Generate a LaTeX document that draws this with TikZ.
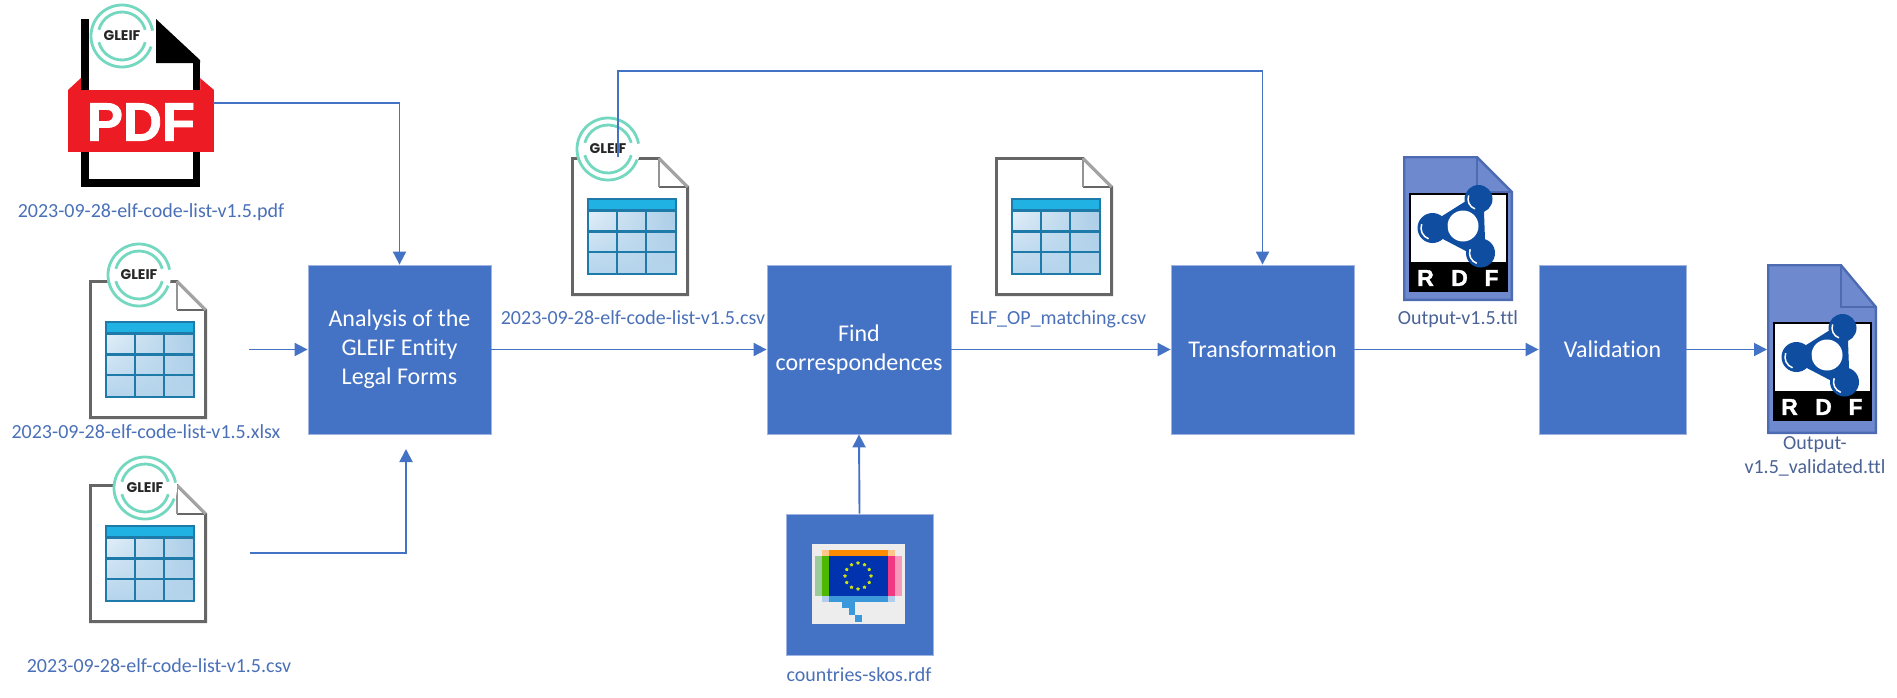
\documentclass[tikz,border=0pt]{standalone}
\usepackage{fontspec}
\setmainfont{Carlito}[Ligatures=NoCommon]
\newfontfamily\logofont{Poppins}
\newfontfamily\markfont{Liberation Sans}[BoldFeatures={FakeBold=1.6}]
\usetikzlibrary{arrows.meta,shadings,shapes.geometric}
\definecolor{boxblue}{HTML}{4472C4}
\definecolor{boxedge}{HTML}{9FB4E0}
\definecolor{labelblue}{HTML}{4A70B8}
\definecolor{slateblue}{HTML}{4A6294}
\definecolor{gleifgreen}{HTML}{74D8C0}
\definecolor{sheetgrey}{HTML}{666666}
\definecolor{gridblue}{HTML}{1E7AA8}
\definecolor{headcyan}{HTML}{20B2E2}
\definecolor{celllight}{HTML}{EAF3FA}
\definecolor{celldark}{HTML}{A9CCE6}
\definecolor{celllow}{HTML}{B4D4EC}
\definecolor{rdfsheet}{HTML}{6F89CE}
\definecolor{rdfedge}{HTML}{4D6BB3}
\definecolor{rdfball}{HTML}{0F4DA0}
\definecolor{pdfred}{HTML}{ED1C24}
\tikzset{
  process/.style={draw=boxedge, line width=0.8pt, fill=boxblue, text=white, align=center, inner sep=0pt,
    font=\fontsize{24}{29}\selectfont},
  filelabel/.style={text=labelblue, align=center, inner sep=0pt, font=\fontsize{20}{24}\selectfont},
  flow/.style={draw=boxblue, line width=1.9pt, -{Triangle[length=13pt,width=13pt]}},
  pics/gleiflogo/.style={code={
    \fill[white] (0,0) circle (32);
    \draw[gleifgreen, line width=2.8pt] (20:31) arc (20:350:31);
    \draw[gleifgreen, line width=2.8pt] (165:24) arc (165:15:24);
    \draw[gleifgreen, line width=2.8pt] (195:24) arc (195:345:24);
    \node[inner sep=0pt, text=black!85, font=\logofont\bfseries\fontsize{14}{14}\selectfont] (-text) at (0,0) {GLEIF};
  }},
  pics/sheetgrid/.style={code={
    \path[shade, upper left=celllight, upper right=celldark, lower left=celllow, lower right=celllow] (0,0) rectangle (88,75);
    \fill[headcyan] (0,0) rectangle (88,11);
    \draw[gridblue, line width=2.8pt] (0,0) rectangle (88,75);
    \draw[gridblue, line width=2.8pt] (0,11.5) -- (88,11.5);
    \draw[gridblue, line width=2.8pt] (0,32.5) -- (88,32.5);
    \draw[gridblue, line width=2.8pt] (0,53) -- (88,53);
    \draw[gridblue, line width=2.8pt] (29,11.5) -- (29,75);
    \draw[gridblue, line width=2.8pt] (58,11.5) -- (58,75);
  }},
  pics/sheetdoc/.style={code={
    \draw[sheetgrey, fill=white, line width=2.8pt] (1.4,1.4) -- (88,1.4) -- (116.6,30) -- (116.6,137.6) -- (1.4,137.6) -- cycle;
    \draw[sheetgrey, line width=2.8pt] (88,30) -- (116.6,30);
    \draw[sheetgrey!70, line width=2.8pt] (88,1.4) -- (88,30);
    \draw[sheetgrey!60, line width=2.8pt] (88,1.4) -- (116.6,30);
    \pic at (17,42) {sheetgrid};
  }},
  pics/rdfmark/.style={code={
    \fill[black] (0,0) rectangle (99,99);
    \fill[white] (2,2) rectangle (97,69);
    \draw[rdfball, fill=rdfball, line width=10pt, line join=round] (70,6) -- (24,35) -- (72,60) -- cycle;
    \fill[white] (54.5,33) circle (15.5);
    \fill[rdfball] (70,6) circle (14);
    \fill[rdfball] (24,35) circle (15);
    \fill[rdfball] (72,60) circle (14.5);
    \draw[white, line width=1.5pt] (70,6) ++(200:10.5) arc (200:110:10.5);
    \draw[white, line width=1.5pt] (24,35) ++(200:11.5) arc (200:110:11.5);
    \draw[white, line width=1.5pt] (72,60) ++(200:11) arc (200:110:11);
    \node[inner sep=0pt, text=white, font=\markfont\bfseries\fontsize{23}{23}\selectfont] (-r) at (17,85) {R};
    \node[inner sep=0pt, text=white, font=\markfont\bfseries\fontsize{23}{23}\selectfont] (-d) at (51,85) {D};
    \node[inner sep=0pt, text=white, font=\markfont\bfseries\fontsize{23}{23}\selectfont] (-f) at (83,85) {F};
  }},
  pics/rdfdoc/.style n args={3}{code={
    \draw[rdfedge, fill=rdfsheet, line width=2.4pt] (1.2,1.2) -- (74,1.2) -- (108.8,#2) -- (108.8,#1-1.2) -- (1.2,#1-1.2) -- cycle;
    \draw[rdfedge, line width=2.4pt] (74,1.2) -- (74,#2) -- (108.8,#2);
    \pic (-mark) at (5.5,#3) {rdfmark};
  }},
}
\begin{document}
\begin{tikzpicture}[x=1pt,y=-1pt]
    \useasboundingbox (0,0) rectangle (1897,697);

    % pdf source
    \fill[pdfred] (68,90) -- (81,78) -- (200,78) -- (214,90) -- cycle;
    \fill[white] (81,19) -- (156,19) -- (200,60) -- (200,187) -- (81,187) -- cycle;
    \fill[black] (81,19) rectangle (89,90);
    \fill[black] (81,152) rectangle (89,187);
    \fill[black] (81,179) rectangle (200,187);
    \fill[black] (193,63) rectangle (200,90);
    \fill[black] (193,152) rectangle (200,187);
    \fill[black] (156,19) -- (200,60) -- (200,63) -- (156,63) -- cycle;
    \fill[pdfred] (68,90) rectangle (214,152);
    \node[inner sep=0pt, text=white, font=\markfont\bfseries\fontsize{54}{54}\selectfont] (pdfmark) at (141,122) {PDF};
    \pic (pdflogo) at (122,36) {gleiflogo};
    \node[filelabel] (pdflabel) at (151,212) {2023-09-28-elf-code-list-v1.5.pdf};

    % spreadsheet sources
    \pic at (89,280) {sheetdoc};
    \pic (xlsxlogo) at (139,275) {gleiflogo};
    \node[filelabel] (xlsxlabel) at (146,432) {2023-09-28-elf-code-list-v1.5.xlsx};

    \pic at (89,484) {sheetdoc};
    \pic (csvlogo) at (145,488) {gleiflogo};
    \node[filelabel] (csvlabel) at (159,666) {2023-09-28-elf-code-list-v1.5.csv};

    % intermediate files
    \pic at (571,157) {sheetdoc};
    \pic (rawlogo) at (608,149) {gleiflogo};
    \node[filelabel] (rawlabel) at (633,318) {2023-09-28-elf-code-list-v1.5.csv};

    \pic at (995,157) {sheetdoc};
    \node[filelabel] (matchlabel) at (1058,319) {ELF\_OP\_matching.csv};

    \pic (output) at (1403,156) {rdfdoc={145}{36}{37}};
    \node[filelabel, text=slateblue] (outputlabel) at (1458,319) {Output-v1.5.ttl};

    \pic (checked) at (1767,264) {rdfdoc={170}{43}{58}};
    \node[filelabel, text=slateblue] (checkedlabel) at (1815,456) {Output-\\v1.5\_validated.ttl};

    % steps
    \node[process, minimum width=183, minimum height=169] (analysis) at (399.5,349.5) {Analysis of the\\GLEIF Entity\\Legal Forms};
    \node[process, minimum width=184, minimum height=169] (findcorr) at (859,349.5) {Find\\correspondences};
    \node[process, minimum width=183, minimum height=169] (transform) at (1262.5,349.5) {Transformation};
    \node[process, minimum width=147, minimum height=169] (validation) at (1612.5,349.5) {Validation};
    \node[process, minimum width=147, minimum height=141] (skos) at (859.5,584.5) {};

    % eu vocabulary icon
    \fill[black!7] (812,544) rectangle (905,624);
    \fill[orange!45!white] (822,550) rectangle (895,556);
    \fill[orange!90!yellow] (829,550) rectangle (888,556);
    \fill[green!50!black!40!white] (815,556) rectangle (822,596);
    \fill[green!60!black!70!yellow] (822,556) rectangle (829,596);
    \fill[magenta!70!red!40!white] (895,556) rectangle (902,596);
    \fill[magenta!70!red!80!white] (888,556) rectangle (895,596);
    \fill[blue!60!black!80!cyan] (829,556) rectangle (888,596);
    \fill[cyan!60!blue!30!white] (822,596) rectangle (895,602);
    \fill[cyan!70!blue!80!white] (829,596) rectangle (888,602);
    \fill[cyan!70!blue!80!white] (842,602) rectangle (855,608);
    \fill[cyan!70!blue!80!white] (849,608) rectangle (855,615);
    \fill[cyan!70!blue!80!white] (855,615) rectangle (862,622);
    \foreach \i in {1,...,12}
        \node[star, star points=5, fill=yellow!80!green, inner sep=0pt, minimum size=4pt] (eustar\i) at ({858+13*cos(30*\i)},{576+13*sin(30*\i)}) {};
    \node[filelabel] (skoslabel) at (859,675) {countries-skos.rdf};

    % free ends
    \coordinate (pdfout) at (213,103);
    \coordinate (xlsxout) at (249,349.5);
    \coordinate (csvout) at (250,553);
    \coordinate (csvin) at (406,449);
    \coordinate (rawout) at (618,157);
    \coordinate (rawbend) at (1262.5,71);
    \coordinate (checkedin) at (1767,349.5);

    \draw[flow] (pdfout) -| (analysis.north);
    \draw[flow] (xlsxout) -- (analysis.west);
    \draw[flow] (csvout) -| (csvin);
    \draw[flow] (analysis.east) -- (findcorr.west);
    \draw[flow] (skos.north) -- (findcorr.south);
    \draw[flow] (rawout) |- (rawbend) -- (transform.north);
    \draw[flow] (findcorr.east) -- (transform.west);
    \draw[flow] (transform.east) -- (validation.west);
    \draw[flow] (validation.east) -- (checkedin);
\end{tikzpicture}
\end{document}
